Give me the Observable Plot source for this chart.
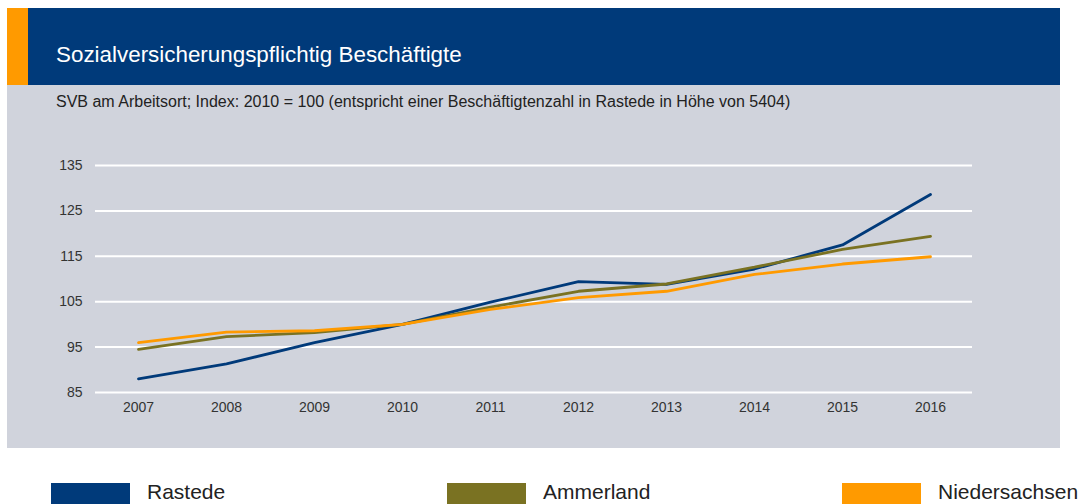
<!DOCTYPE html>
<html>
<head>
<meta charset="utf-8">
<script src="https://cdn.jsdelivr.net/npm/d3@7"></script>
<script src="https://cdn.jsdelivr.net/npm/@observablehq/plot@0.6"></script>
<style>
  html, body { margin: 0; padding: 0; background: #fff; }
  body { width: 1082px; height: 504px; overflow: hidden; position: relative; font-family: "Liberation Sans", Arial, sans-serif; }
  .abs { position: absolute; }
  #strip { left: 7px; top: 8px; width: 21px; height: 77px; background: #ff9a00; }
  #header { left: 28px; top: 8px; width: 1032px; height: 77px; background: #003a7a; }
  #panel { left: 7px; top: 85px; width: 1053px; height: 363px; background: #d0d3dc; }
  #title { left: 56px; top: 42px; color: #fff; font-size: 22.4px; line-height: 26px; white-space: nowrap; }
  #subtitle { left: 56px; top: 93px; color: #222; font-size: 16px; line-height: 18px; white-space: nowrap; }
  #chart { left: 0; top: 140px; }
  .sw { top: 483px; width: 79px; height: 30px; }
  .lab { top: 479.5px; font-size: 21px; line-height: 24px; color: #222; white-space: nowrap; }
</style>
</head>
<body>
<div id="strip" class="abs"></div>
<div id="header" class="abs"></div>
<div id="panel" class="abs"></div>
<div id="title" class="abs">Sozialversicherungspflichtig Beschäftigte</div>
<div id="subtitle" class="abs">SVB am Arbeitsort; Index: 2010 = 100 (entspricht einer Beschäftigtenzahl in Rastede in Höhe von 5404)</div>
<div id="chart" class="abs"></div>
<div id="legend"></div>
<script>
const years = [2007, 2008, 2009, 2010, 2011, 2012, 2013, 2014, 2015, 2016];
const rastede = [88.0, 91.3, 96.0, 100, 104.9, 109.4, 108.8, 112.2, 117.5, 128.6];
const ammerland = [94.5, 97.3, 98.2, 100, 103.8, 107.3, 108.9, 112.6, 116.5, 119.4];
const niedersachsen = [96.0, 98.3, 98.6, 100, 103.3, 105.9, 107.3, 111.0, 113.3, 114.9];
const seriesNames = ["Rastede", "Ammerland", "Niedersachsen"];
const seriesColors = ["#003a7a", "#7a7222", "#ff9a00"];
const yTicks = [85, 95, 105, 115, 125, 135];

const seriesValues = [rastede, ammerland, niedersachsen];
const data = [];
seriesNames.forEach((name, i) => {
  years.forEach((yr, j) => data.push({series: name, year: yr, value: seriesValues[i][j]}));
});

const chart = Plot.plot({
  width: 1082,
  height: 290,
  marginLeft: 95,
  marginRight: 110,
  marginTop: 25,
  marginBottom: 38,
  insetLeft: 43,
  insetRight: 42,
  style: {background: "transparent", fontFamily: "'Liberation Sans', Arial, sans-serif", fontSize: "14px", color: "#333"},
  x: {domain: [2007, 2016], ticks: years, tickFormat: "d", label: null, tickSize: 0, tickPadding: 10},
  y: {domain: [85, 135], ticks: yTicks, label: null, tickSize: 0, tickPadding: 13},
  color: {domain: seriesNames, range: seriesColors},
  marks: [
    Plot.gridY(yTicks, {stroke: "#ffffff", strokeOpacity: 1, strokeWidth: 2}),
    Plot.axisX({ticks: years, tickFormat: "d", tickSize: 0, tickPadding: 10, fill: "#333"}),
    Plot.axisY({ticks: yTicks, tickSize: 0, tickPadding: 13, fill: "#333"}),
    Plot.line(data, {x: "year", y: "value", z: "series", stroke: "series", strokeWidth: 2.8, strokeLinejoin: "miter"})
  ]
});
document.getElementById("chart").appendChild(chart);

const legendX = [[51, 147], [447, 543], [842, 938]];
const legend = document.getElementById("legend");
seriesNames.forEach((name, i) => {
  const sw = document.createElement("div");
  sw.className = "abs sw";
  sw.style.left = legendX[i][0] + "px";
  sw.style.background = seriesColors[i];
  legend.appendChild(sw);
  const lab = document.createElement("div");
  lab.className = "abs lab";
  lab.style.left = legendX[i][1] + "px";
  lab.textContent = name;
  legend.appendChild(lab);
});
</script>
</body>
</html>
